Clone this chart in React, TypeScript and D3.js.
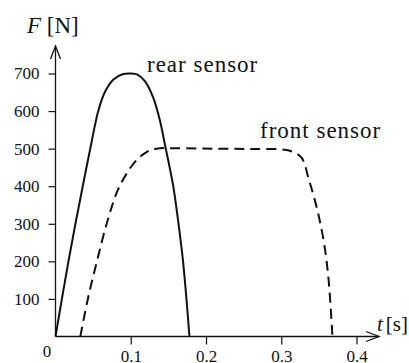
import { useEffect, useRef } from 'react';
import * as d3 from 'd3';

// rear sensor (solid)
const rearT = [0, 0.0085, 0.0172, 0.0265, 0.0362, 0.0462, 0.0522, 0.0568, 0.0655, 0.077, 0.089, 0.1, 0.109, 0.119, 0.13, 0.139, 0.1455, 0.151, 0.1565, 0.1635, 0.1695, 0.174, 0.178];
const rearF = [0, 100, 200, 300, 400, 500, 560, 600, 650, 684, 698, 700, 697, 679, 635, 573, 510, 457, 400, 300, 200, 100, 0];

// front sensor (dashed)
const frontT = [0.033, 0.043, 0.055, 0.068, 0.082, 0.095, 0.108, 0.121, 0.134, 0.16, 0.21, 0.26, 0.305, 0.317, 0.327, 0.337, 0.348, 0.357, 0.363, 0.368];
const frontF = [0, 100, 200, 300, 386, 435, 470, 491, 500, 501, 500, 499, 497, 490, 476, 416, 336, 247, 149, 0];

const xTicks = [0.1, 0.2, 0.3, 0.4];
const yTicks = [100, 200, 300, 400, 500, 600, 700];

const W = 409;
const H = 363;
const FONT = "'Liberation Serif', serif";

export default function App() {
  const svgRef = useRef<SVGSVGElement>(null);

  useEffect(() => {
    if (!svgRef.current) return;
    const svg = d3.select(svgRef.current);
    svg.selectAll('*').remove();

    const x = d3.scaleLinear().domain([0, 0.4]).range([55.5, 356.5]);
    const y = d3.scaleLinear().domain([0, 700]).range([336.5, 73.5]);

    const x0 = x(0);
    const y0 = y(0);

    // axes with open arrow heads
    const ax = svg.append('g').attr('stroke', '#111').attr('stroke-width', 1.3).attr('fill', 'none');
    ax.append('line').attr('x1', x0).attr('y1', y0).attr('x2', x0).attr('y2', 46);
    ax.append('path').attr('d', `M${x0 - 5},59 L${x0},46 L${x0 + 5},59`);
    ax.append('line').attr('x1', x0).attr('y1', y0).attr('x2', 379).attr('y2', y0);
    ax.append('path').attr('d', `M366,${y0 - 5} L379,${y0} L366,${y0 + 5}`);

    // y ticks
    const yAxis = d3.axisLeft(y).tickValues(yTicks).tickSize(7).tickPadding(9).tickFormat(d3.format('d'));
    const gy = svg.append('g').attr('transform', `translate(${x0},0)`).call(yAxis);
    gy.select('.domain').remove();
    gy.selectAll('line').attr('stroke', '#111').attr('stroke-width', 1.2);
    gy.selectAll('text').style('font-family', FONT).attr('font-size', 17).attr('fill', '#111');

    // x ticks
    const xAxis = d3.axisBottom(x).tickValues(xTicks).tickSize(8).tickPadding(5).tickFormat(d3.format('.1f'));
    const gx = svg.append('g').attr('transform', `translate(0,${y0})`).call(xAxis);
    gx.select('.domain').remove();
    gx.selectAll('line').attr('stroke', '#111').attr('stroke-width', 1.2);
    gx.selectAll('text').style('font-family', FONT).attr('font-size', 17).attr('fill', '#111');

    svg.append('text')
      .attr('x', 47).attr('y', 357)
      .attr('text-anchor', 'middle')
      .style('font-family', FONT).attr('font-size', 17).attr('fill', '#111')
      .text('0');

    // curves
    const line = d3.line<[number, number]>()
      .x(d => x(d[0]))
      .y(d => y(d[1]))
      .curve(d3.curveCatmullRom.alpha(0.5));

    const rear = rearT.map((t, i) => [t, rearF[i]] as [number, number]);
    const front = frontT.map((t, i) => [t, frontF[i]] as [number, number]);

    svg.append('path')
      .datum(rear)
      .attr('fill', 'none')
      .attr('stroke', '#111')
      .attr('stroke-width', 2)
      .attr('d', line);

    svg.append('path')
      .datum(front)
      .attr('fill', 'none')
      .attr('stroke', '#111')
      .attr('stroke-width', 2)
      .attr('stroke-dasharray', '10,6')
      .attr('d', line);

    // labels
    svg.append('text')
      .attr('x', 147).attr('y', 72)
      .style('font-family', FONT).attr('font-size', 23).attr('letter-spacing', 1)
      .attr('fill', '#111')
      .text('rear sensor');

    svg.append('text')
      .attr('x', 260).attr('y', 138)
      .style('font-family', FONT).attr('font-size', 23).attr('letter-spacing', 1)
      .attr('fill', '#111')
      .text('front sensor');

    const fl = svg.append('text')
      .attr('x', 27).attr('y', 33)
      .style('font-family', FONT).attr('font-size', 23).attr('fill', '#111');
    fl.append('tspan').attr('font-style', 'italic').text('F');
    fl.append('tspan').text(' [N]');

    const tl = svg.append('text')
      .attr('x', 377).attr('y', 331)
      .style('font-family', FONT).attr('font-size', 21).attr('fill', '#111');
    tl.append('tspan').attr('font-style', 'italic').text('t');
    tl.append('tspan').attr('dx', 3).text('[s]');
  }, []);

  return (
    <svg
      ref={svgRef}
      width={W}
      height={H}
      style={{ display: 'block', position: 'absolute', left: 0, top: 0, background: '#fff' }}
    />
  );
}
